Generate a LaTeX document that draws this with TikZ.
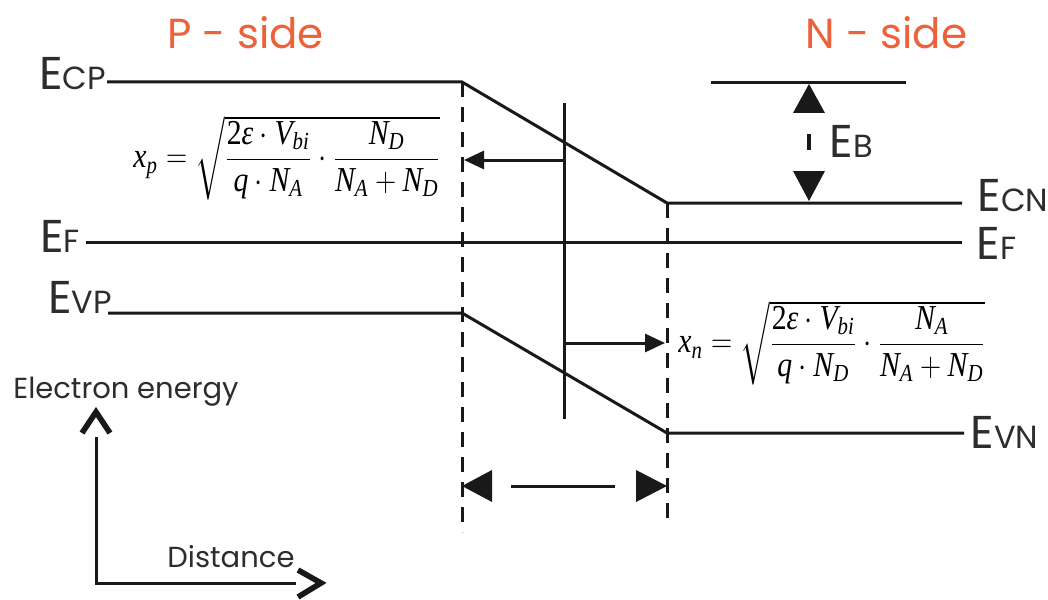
\documentclass[tikz,border=0pt]{standalone}
\usepackage{amsmath}
\usepackage[no-math]{fontspec}
\setmainfont{Liberation Serif}
\newfontfamily\gothic{Poppins}
\usetikzlibrary{arrows.meta}
\definecolor{lineC}{RGB}{25,25,25}
\definecolor{labC}{RGB}{45,45,45}
\definecolor{sideC}{RGB}{236,98,58}
\newcommand\lsub[1]{{\fontsize{16}{18}\selectfont #1}}
\newcommand\tv[1]{\text{\itshape #1}}
\newcommand\tvu[1]{\text{\upshape #1}}
\tikzset{
  band/.style={line width=1.5pt, draw=lineC},
  dashline/.style={line width=1.5pt, draw=lineC, dash pattern=on 7.5pt off 5pt},
  lbl/.style={font=\gothic\fontsize{23}{26}\selectfont, text=labC, inner sep=0pt, anchor=base west},
  sidelbl/.style={font=\gothic\fontsize{21}{24}\selectfont, text=sideC, inner sep=0pt, anchor=base west},
  axlbl/.style={font=\gothic\fontsize{14.5}{16}\selectfont, text=labC, inner sep=0pt, anchor=base west},
  formula/.style={font=\fontsize{17.5}{20}\selectfont, inner sep=0pt, anchor=west},
  arr/.style={line width=1.5pt, draw=lineC, -{Triangle[length=10pt,width=9pt]}},
  tri/.style={fill=lineC, draw=none},
  chev/.style={line width=2.8pt, draw=lineC, line join=miter},
}
\begin{document}
\begin{tikzpicture}[x=0.5pt,y=-0.5pt]
\useasboundingbox (0,0) rectangle (1048,599);
% coordinates
\coordinate (cp1) at (107,82);
\coordinate (cp2) at (462,82);
\coordinate (cn1) at (667,203);
\coordinate (cn2) at (962,203);
\coordinate (f1) at (86,242);
\coordinate (f2) at (962,242);
\coordinate (vp1) at (108,313);
\coordinate (vp2) at (462,313);
\coordinate (vn1) at (667,433);
\coordinate (vn2) at (964,433);
\coordinate (nt1) at (711,83);
\coordinate (nt2) at (906,83);
\coordinate (dl1) at (462,532);
\coordinate (dr1) at (667,525);
\coordinate (mt) at (564,103);
\coordinate (mb) at (564,419);
\coordinate (mxp) at (564,160);
\coordinate (txp) at (464,160);
\coordinate (mxn) at (564,343);
\coordinate (txn) at (665,343);
\coordinate (ax0) at (96,583);
\coordinate (axy) at (96,437);
\coordinate (axx) at (296,583);
% labels
\node[sidelbl] (pside) at (167,49) {P - side};
\node[sidelbl] (nside) at (805,49) {N - side};
\node[lbl] (ecp) at (39,90) {E\lsub{CP}};
\node[lbl] (efl) at (40,252) {E\lsub{F}};
\node[lbl] (evp) at (48,313) {E\lsub{VP}};
\node[lbl] (ecn) at (977,211) {E\lsub{CN}};
\node[lbl] (efr) at (976,259) {E\lsub{F}};
\node[lbl] (evn) at (970,448) {E\lsub{VN}};
\node[lbl] (eb) at (829,157) {E\lsub{B}};
\node[axlbl] (een) at (13,398) {Electron energy};
\node[axlbl] (dist) at (167,567) {Distance};
% formulas
\node[formula] (xp) at (133,158) {\scalebox{0.85}[1]{$\tv{x}_{\tv{p}}=\sqrt{\dfrac{\tvu{2}\tv{ε}\cdot \tv{V}_{\tv{bi}}}{\tv{q}\cdot\tv{N}_{\tv{A}}}\cdot\dfrac{\tv{N}_{\tv{D}}}{\tv{N}_{\tv{A}}+\tv{N}_{\tv{D}}}}$}};
\node[formula] (xn) at (678,343) {\scalebox{0.85}[1]{$\tv{x}_{\tv{n}}=\sqrt{\dfrac{\tvu{2}\tv{ε}\cdot \tv{V}_{\tv{bi}}}{\tv{q}\cdot\tv{N}_{\tv{D}}}\cdot\dfrac{\tv{N}_{\tv{A}}}{\tv{N}_{\tv{A}}+\tv{N}_{\tv{D}}}}$}};
% bands
\draw[band] (cp1) -- (cp2) -- (cn1) -- (cn2);
\draw[band] (f1) -- (f2);
\draw[band] (vp1) -- (vp2) -- (vn1) -- (vn2);
\draw[band] (nt1) -- (nt2);
% depletion edges
\draw[dashline] (cp2) -- (dl1);
\draw[dashline] (cn1) -- (dr1);
% junction line and arrows
\draw[band] (mt) -- (mb);
\draw[arr] (mxp) -- (txp);
\draw[arr] (mxn) -- (txn);
% barrier arrows
\fill[tri] (809,84) -- (793,113) -- (825,113) -- cycle;
\fill[tri] (809,201) -- (793,171) -- (825,171) -- cycle;
\draw[line width=2.2pt, draw=lineC] (809,134) -- (809,150);
% width arrows
\fill[tri] (462,486) -- (492,470) -- (492,502) -- cycle;
\fill[tri] (667,486) -- (636,470) -- (636,502) -- cycle;
\draw[band] (511,486) -- (615,486);
% axes
\draw[band] (axy) -- (ax0) -- (axx);
\draw[chev] (82,433) -- (96,412) -- (110,433);
\draw[chev] (298,570) -- (321,583) -- (298,597);
\end{tikzpicture}
\end{document}
